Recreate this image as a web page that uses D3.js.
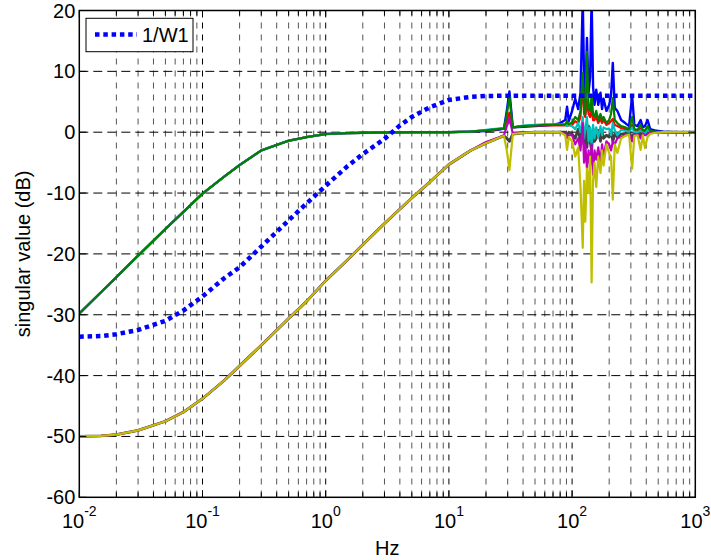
<!DOCTYPE html>
<html>
<head>
<meta charset="utf-8">
<script src="https://cdn.jsdelivr.net/npm/d3@7"></script>
<style>
  html, body { margin: 0; padding: 0; background: #fff; }
  svg { display: block; font-family: "Liberation Sans", Arial, Helvetica, sans-serif; }
</style>
</head>
<body>
<svg id="chart" width="711" height="560"></svg>
<script>
// ---------------- DATA ----------------
const freqLow = [0.01, 0.015, 0.02, 0.03, 0.05, 0.07, 0.1, 0.15, 0.2, 0.3, 0.5, 0.7, 1, 1.5, 2, 3, 5, 7, 10, 15];
const upperLow = [-29.8, -26.3, -23.8, -20.3, -15.9, -13.1, -10.1, -7.3, -5.4, -3.0, -1.4, -0.8, -0.3, -0.15, -0.1, -0.05, 0, 0, 0, 0.1];
const lowerLow = [-50.0, -49.9, -49.7, -49.0, -47.5, -46.0, -43.8, -40.8, -38.4, -35.0, -30.6, -27.8, -24.4, -21.0, -18.5, -15.0, -10.8, -8.2, -5.3, -3.0];

const freqHigh = [20, 25, 28, 29.5, 31, 33, 40, 50, 60, 70, 80, 88, 91, 94, 100, 106, 112, 117, 122, 125, 128, 132, 136, 140, 144, 148, 152, 157, 163, 170, 175, 180, 190, 200, 207, 214, 222, 233, 250, 270, 290, 307, 320, 340, 360, 375, 390, 410, 430, 470, 550, 700, 1000];

const blueHigh = [0.2, 0.4, 0.6, 3.5, 6.7, 0.8,
  0.9, 1.0, 1.1, 1.2, 1.5,
  2.0, 4.2, 1.8, 3.5,
  5.5, 3.8, 6.5, 22,
  9, 5.5, 15.5, 6.5,
  9, 22, 7.5, 4.5,
  7, 4.5, 6.5, 3.8,
  5.5, 3.5, 4.5, 6,
  11.4, 4, 3.5, 2,
  1.5, 1, 6.1, 1.2,
  1, 2.0, 0.8, 1,
  2.0, 0.5, 0.3, 0.1,
  0, 0];
const greenHigh = [0.3, 0.5, 0.6, 3.0, 5.8, 0.8,
  1.0, 1.1, 1.2, 1.2, 1.2,
  1.3, 1.8, 1.3, 1.6,
  2.5, 2.0, 3.5, 9.7,
  4, 3, 13.2, 4,
  3.5, 6, 3, 2.5,
  3.5, 2, 3, 2,
  2.5, 1.5, 2, 3,
  5.6, 2, 1.5, 1,
  0.8, 0.5, 2.5, 0.5,
  0.4, 1.2, 0.3, 0.3,
  1, 0.2, 0.1, 0,
  0, 0];
const redHigh = [0.3, 0.5, 0.6, 2.0, 3.2, 0.8,
  1.0, 1.1, 1.1, 1.1, 1.1,
  1.1, 1.3, 1.1, 1.2,
  1.8, 1.5, 2.5, 8.6,
  3, 2.5, 5.3, 3,
  2.5, 4, 2, 2,
  2.5, 1.5, 2.2, 1.5,
  2, 1.2, 1.5, 1.8,
  2.2, 1.2, 1, 0.7,
  0.5, 0.3, 1.2, 0.3,
  0.2, 0.6, 0.2, 0.2,
  0.5, 0.1, 0, 0,
  0, 0];
const cyanHigh = [0.4, 0.6, 0.7, 1.2, 1.8, 0.8,
  1.1, 1.2, 1.3, 1.3, 1.3,
  1.3, 1.0, 1.2, 1.0,
  0.5, 1.5, 0, 2.5,
  -1, 0.5, 2.5, -1.5,
  0.8, -2, 1.2, -1,
  0.8, -0.8, 1.0, -0.5,
  0.8, 0.5, 0.6, -0.5,
  1.5, 0.3, -0.5, 0.4,
  0.2, 0.1, 0.8, 0,
  0, 0.3, 0, -0.3,
  0.5, 0, 0, 0,
  0, 0];
const magentaHigh = [-1.6, -0.9, -0.5, 1.0, 2.3, -0.2,
  0, 0, 0, 0, 0,
  -0.3, -1.0, -0.5, -0.5,
  -2, -1, -3, 1.5,
  -5, -2, -6, -3,
  -5.5, -2, -7, -3,
  -4.5, -2.5, -5, -2,
  -4, -1.5, -2, -3,
  -1.5, -2, -1, -0.8,
  -0.5, -0.3, -1.5, -0.3,
  -0.3, -1.0, -0.2, -0.5,
  -0.3, -0.1, 0, 0,
  0, 0];
const yellowHigh = [-1.8, -1.0, -0.6, -3.0, -6.2, -0.3,
  -0.1, 0, 0, 0, 0,
  -0.5, -2.9, -0.8, -1.5,
  -4, -2.5, -9, -19,
  -8, -14.7, -6, -10,
  -4, -24.7, -8, -5,
  -9, -4, -6.7, -3,
  -5.5, -2, -3.5, -4,
  -11.1, -2, -3.4, -1,
  -0.6, -0.4, -6, -0.6,
  -0.5, -2.9, -0.5, -2.6,
  -0.8, -0.3, -0.1, 0,
  0, 0];
const grayHigh = [-1.8, -1.0, -0.6, -1.0, -1.5, -0.3,
  -0.1, 0, 0, 0, 0,
  0, -0.5, 0, -0.3,
  -1, 0.5, -1.5, 1,
  -2, 0.5, -2.5, 1,
  -1.5, -3, 0.5, -1.5,
  -1, 0.3, -1.5, 0.2,
  -1, -0.5, -0.8, 0.3,
  -1.5, -0.3, -0.8, -0.3,
  -0.2, 0, -1, 0,
  0, -0.5, 0, -0.4,
  0, 0, 0, 0,
  0, 0];

const w1Freq = [0.01, 0.015, 0.02, 0.03, 0.05, 0.07, 0.1, 0.15, 0.2, 0.3, 0.5, 0.7, 1, 1.5, 2, 3, 4, 5, 7, 10, 15, 20, 30, 50, 100, 1000];
const w1Values = [-33.6, -33.5, -33.2, -32.5, -31.0, -29.3, -27.0, -24.0, -22.2, -18.8, -14.5, -11.7, -8.8, -5.6, -3.6, -1.1, 1.1, 2.5, 4.1, 5.3, 5.8, 5.95, 6.0, 6.0, 6.0, 6.0];

const yTicks = [-60, -50, -40, -30, -20, -10, 0, 10, 20];
const xExponents = [-2, -1, 0, 1, 2, 3];
const legendLabel = "1/W1";
const xLabel = "Hz";
const yLabel = "singular value (dB)";

// Series (drawing order) : colour, which low-frequency bundle, high-frequency values
const seriesDefs = [
  { color: "#404040", low: lowerLow, high: grayHigh, width: 2.8 },
  { color: "#0000ff", low: upperLow, high: blueHigh, width: 2.4 },
  { color: "#ff0000", low: upperLow, high: redHigh, width: 2.2 },
  { color: "#00bfbf", low: upperLow, high: cyanHigh, width: 2.2 },
  { color: "#bf00bf", low: lowerLow, high: magentaHigh, width: 2.2 },
  { color: "#008000", low: upperLow, high: greenHigh, width: 2.2 },
  { color: "#bfbf00", low: lowerLow, high: yellowHigh, width: 2.2 }
];

// ---------------- LAYOUT ----------------
const svg = d3.select("#chart");
const L = 79.3, R = 695.3, T = 10.5, B = 497.3;
const x = d3.scaleLog().domain([0.01, 1000]).range([L, R]);
const y = d3.scaleLinear().domain([-60, 20]).range([B, T]);

svg.append("defs").append("clipPath").attr("id", "clip")
  .append("rect").attr("x", L).attr("y", T).attr("width", R - L).attr("height", B - T);

// grid
const grid = svg.append("g");
const minorX = [];
xExponents.slice(0, -1).forEach(e => { for (let k = 2; k <= 9; k++) minorX.push(k * Math.pow(10, e)); });
grid.selectAll("line.minor").data(minorX).enter().append("line")
  .attr("x1", d => x(d)).attr("x2", d => x(d)).attr("y1", T).attr("y2", B)
  .attr("stroke", "#555").attr("stroke-width", 1).attr("stroke-dasharray", "6,6");
grid.selectAll("line.majx").data(xExponents.slice(1, -1)).enter().append("line")
  .attr("x1", d => x(Math.pow(10, d))).attr("x2", d => x(Math.pow(10, d))).attr("y1", T).attr("y2", B)
  .attr("stroke", "#000").attr("stroke-width", 1).attr("stroke-dasharray", "6,6");
grid.selectAll("line.majy").data(yTicks.slice(1, -1)).enter().append("line")
  .attr("x1", L).attr("x2", R).attr("y1", d => y(d)).attr("y2", d => y(d))
  .attr("stroke", "#000").attr("stroke-width", 1).attr("stroke-dasharray", "9,5");

// data lines
const plot = svg.append("g").attr("clip-path", "url(#clip)");
const line = d3.line().x(d => x(d[0])).y(d => y(d[1]));
const allFreq = freqLow.concat(freqHigh);
seriesDefs.forEach(s => {
  const vals = s.low.concat(s.high);
  const pts = allFreq.map((f, i) => [f, vals[i]]);
  plot.append("path").datum(pts).attr("d", line)
    .attr("fill", "none").attr("stroke", s.color).attr("stroke-width", s.width)
    .attr("stroke-linejoin", "round");
});
plot.append("path").datum(w1Freq.map((f, i) => [f, w1Values[i]])).attr("d", line)
  .attr("fill", "none").attr("stroke", "#0000ff").attr("stroke-width", 4.5)
  .attr("stroke-dasharray", "4.5,3.8");

// axes box and ticks
const ax = svg.append("g");
ax.append("rect").attr("x", L).attr("y", T).attr("width", R - L).attr("height", B - T)
  .attr("fill", "none").attr("stroke", "#000").attr("stroke-width", 1.5);

const majX = xExponents.map(e => Math.pow(10, e));
[[majX, 7], [minorX, 5]].forEach(([arr, len]) => {
  ax.selectAll(null).data(arr).enter().append("line")
    .attr("x1", d => x(d)).attr("x2", d => x(d)).attr("y1", B).attr("y2", B - len)
    .attr("stroke", "#000").attr("stroke-width", 1);
  ax.selectAll(null).data(arr).enter().append("line")
    .attr("x1", d => x(d)).attr("x2", d => x(d)).attr("y1", T).attr("y2", T + len)
    .attr("stroke", "#000").attr("stroke-width", 1);
});
ax.selectAll(null).data(yTicks).enter().append("line")
  .attr("x1", L).attr("x2", L + 7).attr("y1", d => y(d)).attr("y2", d => y(d))
  .attr("stroke", "#000").attr("stroke-width", 1);
ax.selectAll(null).data(yTicks).enter().append("line")
  .attr("x1", R).attr("x2", R - 7).attr("y1", d => y(d)).attr("y2", d => y(d))
  .attr("stroke", "#000").attr("stroke-width", 1);

// y tick labels
ax.selectAll(null).data(yTicks).enter().append("text")
  .attr("x", L - 4).attr("y", d => y(d) + 7)
  .attr("text-anchor", "end").attr("font-size", 20).attr("fill", "#000")
  .text(d => d);

// x tick labels 10^e
xExponents.forEach(e => {
  const t = ax.append("text").attr("x", x(Math.pow(10, e))).attr("y", 528)
    .attr("text-anchor", "middle").attr("font-size", 20).attr("fill", "#000");
  t.append("tspan").text("10");
  t.append("tspan").attr("font-size", 14).attr("dy", -12).text(e);
});

// axis labels
svg.append("text").attr("x", (L + R) / 2).attr("y", 555).attr("text-anchor", "middle")
  .attr("font-size", 20).text(xLabel);
svg.append("text").attr("transform", `translate(30,${(T + B) / 2}) rotate(-90)`)
  .attr("text-anchor", "middle").attr("font-size", 20).text(yLabel);

// legend
const lg = svg.append("g");
lg.append("rect").attr("x", 86).attr("y", 18.3).attr("width", 107).attr("height", 33.4)
  .attr("fill", "#fff").attr("stroke", "#000").attr("stroke-width", 1);
lg.append("line").attr("x1", 95).attr("x2", 137).attr("y1", 34.5).attr("y2", 34.5)
  .attr("stroke", "#0000ff").attr("stroke-width", 4.5).attr("stroke-dasharray", "4.5,3.8");
lg.append("text").attr("x", 142).attr("y", 41.5).attr("font-size", 20).text(legendLabel);
</script>
</body>
</html>
